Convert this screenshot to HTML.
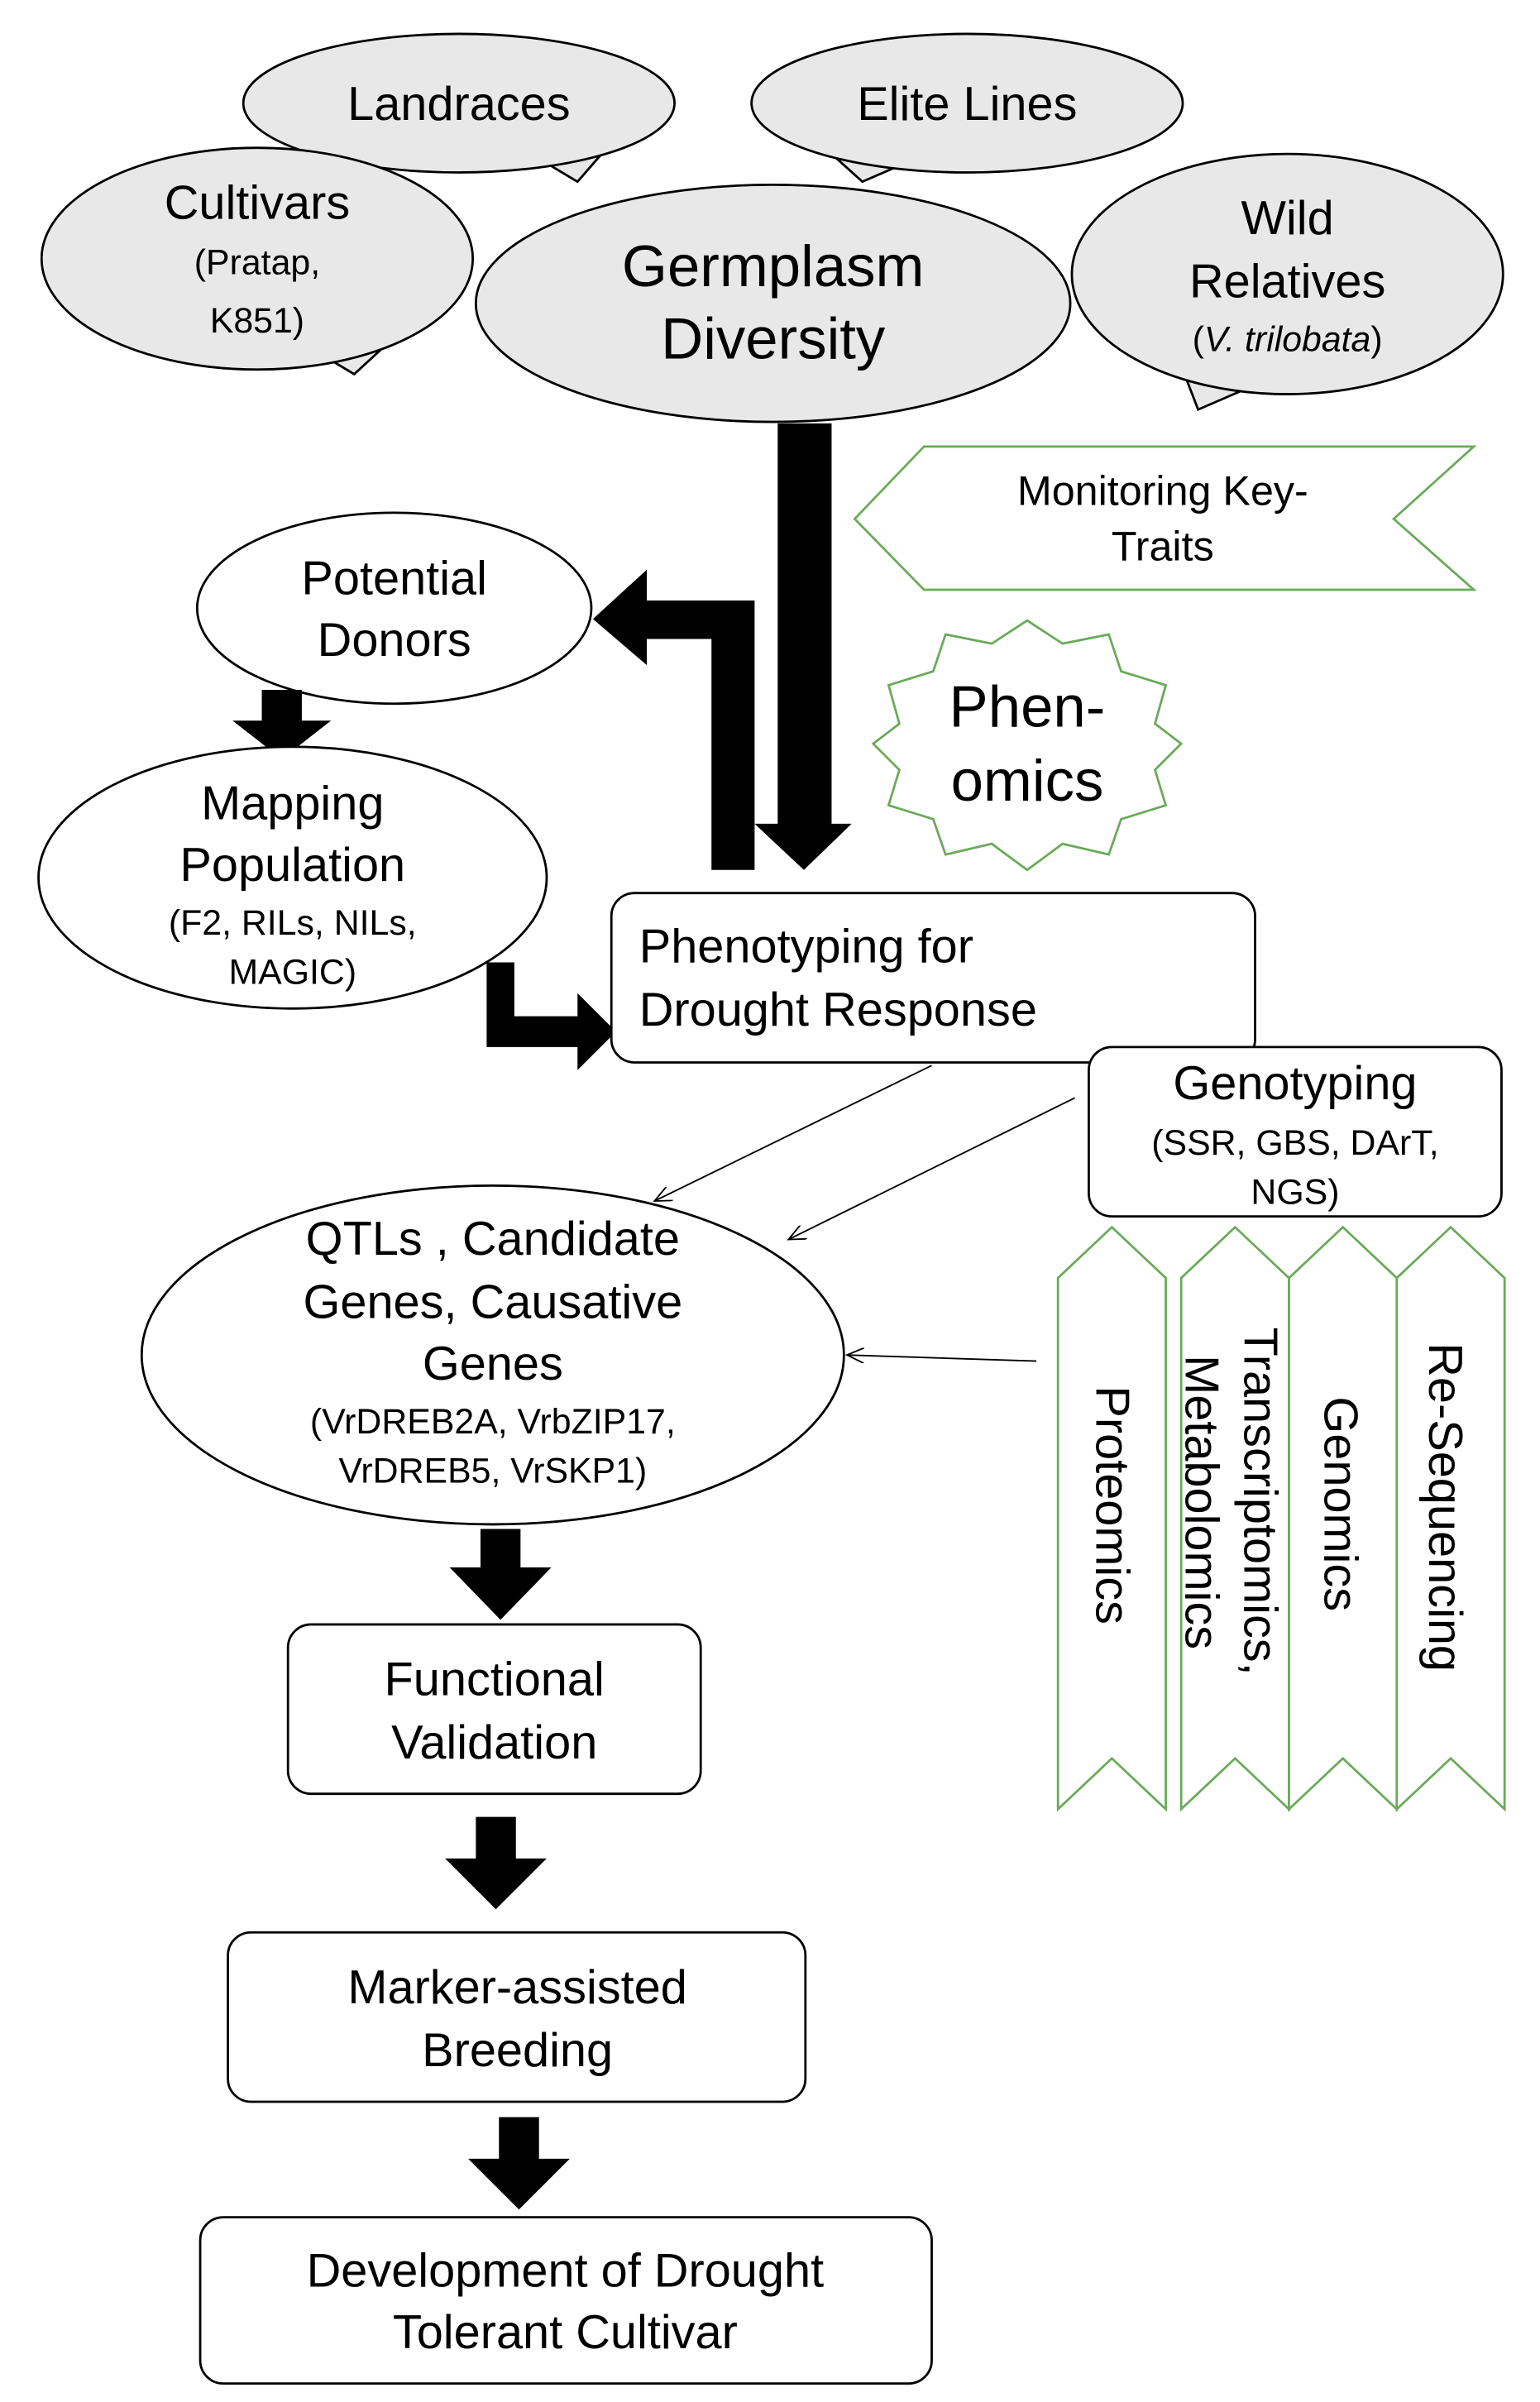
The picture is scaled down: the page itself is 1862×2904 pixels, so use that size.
<!DOCTYPE html>
<html><head><meta charset="utf-8"><style>
html,body{margin:0;padding:0;background:#fff}
svg{display:block}
text{font-family:"Liberation Sans",Arial,sans-serif;fill:#000}
</style></head><body>
<svg width="1862" height="2904" viewBox="0 0 1000 1560" preserveAspectRatio="none" xmlns="http://www.w3.org/2000/svg">
<defs>
<marker id="ah" markerWidth="12" markerHeight="10" refX="11" refY="5" orient="auto" markerUnits="userSpaceOnUse">
<path d="M0,0 L11,5 L0,10" fill="none" stroke="#000" stroke-width="1"/>
</marker>
</defs>
<g stroke="#000" stroke-width="1.5" fill="#e8e8e8">
<!-- Landraces -->
<polygon points="345,100 375,118 395,95"/>
<ellipse cx="298" cy="67" rx="140" ry="45"/>
<!-- Elite Lines -->
<polygon points="540,100 560,118 590,105"/>
<ellipse cx="628" cy="67" rx="140" ry="45"/>
<!-- Cultivars -->
<polygon points="200,225 230,243 255,220"/>
<ellipse cx="167" cy="168" rx="140" ry="72"/>
<!-- Wild Relatives -->
<polygon points="768,240 778,266 815,250"/>
<ellipse cx="836" cy="178" rx="140" ry="78"/>
<!-- Germplasm -->
<ellipse cx="502" cy="197" rx="193" ry="77"/>
</g>
<g font-size="31" text-anchor="middle">
<text x="298" y="78">Landraces</text>
<text x="628" y="78">Elite Lines</text>
<text x="167" y="142">Cultivars</text>
<text x="167" y="178" font-size="23">(Pratap,</text>
<text x="167" y="216" font-size="23">K851)</text>
<text x="836" y="152">Wild</text>
<text x="836" y="193">Relatives</text>
<text x="836" y="228" font-size="23">(<tspan font-style="italic">V. trilobata</tspan>)</text>
<text x="502" y="186" font-size="38">Germplasm</text>
<text x="502" y="233" font-size="38">Diversity</text>
</g>
<!-- big arrows -->
<path d="M505,275 L540,275 L540,535 L553,535 L522,565 L490,535 L505,535 Z" fill="#000"/>
<path d="M462,565 L490,565 L490,390 L420,390 L420,370 L385,402 L420,432 L420,415 L462,415 Z" fill="#000"/>
<!-- Monitoring banner -->
<path d="M555,337 L600,290 L957,290 L905,337 L957,383 L600,383 Z" fill="#fff" stroke="#6aaa5a" stroke-width="1.5"/>
<text x="755" y="328" font-size="27" text-anchor="middle">Monitoring Key-</text>
<text x="755" y="364" font-size="27" text-anchor="middle">Traits</text>
<!-- Phenomics star -->
<path d="M667,403 L690,418 L720,412 L728,436 L757,445 L750,470 L767,483 L750,500 L757,523 L728,532 L720,555 L690,548 L667,565 L644,548 L614,555 L606,532 L577,523 L584,500 L567,483 L584,470 L577,445 L606,436 L614,412 L644,418 Z" fill="#fff" stroke="#6aaa5a" stroke-width="1.5"/>
<text x="667" y="472" font-size="38" text-anchor="middle">Phen-</text>
<text x="667" y="520" font-size="38" text-anchor="middle">omics</text>
<!-- Potential Donors -->
<ellipse cx="256" cy="395" rx="128" ry="62" fill="#fff" stroke="#000" stroke-width="1.5"/>
<text x="256" y="386" font-size="31" text-anchor="middle">Potential</text>
<text x="256" y="426" font-size="31" text-anchor="middle">Donors</text>
<path d="M170,448 L196,448 L196,468 L215,468 L183,493 L151,468 L170,468 Z" fill="#000"/>
<!-- Mapping population -->
<ellipse cx="190" cy="570" rx="165" ry="85" fill="#fff" stroke="#000" stroke-width="1.5"/>
<text x="190" y="532" font-size="31" text-anchor="middle">Mapping</text>
<text x="190" y="572" font-size="31" text-anchor="middle">Population</text>
<text x="190" y="607" font-size="23" text-anchor="middle">(F2, RILs, NILs,</text>
<text x="190" y="639" font-size="23" text-anchor="middle">MAGIC)</text>
<path d="M316,625 L334,625 L334,660 L375,660 L375,645 L400,670 L375,695 L375,680 L316,680 Z" fill="#000"/>
<!-- Phenotyping -->
<rect x="397" y="580" width="418" height="110" rx="15" fill="#fff" stroke="#000" stroke-width="1.5"/>
<text x="415" y="625" font-size="31">Phenotyping for</text>
<text x="415" y="666" font-size="31">Drought Response</text>
<!-- Genotyping -->
<rect x="707" y="680" width="268" height="110" rx="15" fill="#fff" stroke="#000" stroke-width="1.5"/>
<text x="841" y="714" font-size="31" text-anchor="middle">Genotyping</text>
<text x="841" y="750" font-size="23" text-anchor="middle">(SSR, GBS, DArT,</text>
<text x="841" y="782" font-size="23" text-anchor="middle">NGS)</text>
<!-- thin arrows -->
<g stroke="#000" stroke-width="1" marker-end="url(#ah)">
<line x1="605" y1="692" x2="425" y2="780"/>
<line x1="698" y1="713" x2="512" y2="805"/>
<line x1="673" y1="884" x2="550" y2="880"/>
</g>
<!-- QTL -->
<ellipse cx="320" cy="880" rx="228" ry="110" fill="#fff" stroke="#000" stroke-width="1.5"/>
<g text-anchor="middle">
<text x="320" y="815" font-size="31">QTLs , Candidate</text>
<text x="320" y="856" font-size="31">Genes, Causative</text>
<text x="320" y="896" font-size="31">Genes</text>
<text x="320" y="931" font-size="23">(VrDREB2A, VrbZIP17,</text>
<text x="320" y="963" font-size="23">VrDREB5, VrSKP1)</text>
</g>
<!-- down arrows -->
<path d="M312,993 L338,993 L338,1018 L358,1018 L325,1052 L292,1018 L312,1018 Z" fill="#000"/>
<rect x="187" y="1055" width="268" height="110" rx="15" fill="#fff" stroke="#000" stroke-width="1.5"/>
<text x="321" y="1101" font-size="31" text-anchor="middle">Functional</text>
<text x="321" y="1142" font-size="31" text-anchor="middle">Validation</text>
<path d="M309,1180 L335,1180 L335,1207 L355,1207 L322,1240 L289,1207 L309,1207 Z" fill="#000"/>
<rect x="148" y="1255" width="375" height="110" rx="15" fill="#fff" stroke="#000" stroke-width="1.5"/>
<text x="336" y="1301" font-size="31" text-anchor="middle">Marker-assisted</text>
<text x="336" y="1342" font-size="31" text-anchor="middle">Breeding</text>
<path d="M324,1375 L350,1375 L350,1402 L370,1402 L337,1435 L304,1402 L324,1402 Z" fill="#000"/>
<rect x="130" y="1440" width="475" height="108" rx="15" fill="#fff" stroke="#000" stroke-width="1.5"/>
<text x="367" y="1485" font-size="31" text-anchor="middle">Development of Drought</text>
<text x="367" y="1525" font-size="31" text-anchor="middle">Tolerant Cultivar</text>
<!-- omics chevrons -->
<g fill="#fff" stroke="#6aaa5a" stroke-width="1.5">
<path d="M687,830 L722,797 L757,830 L757,1175 L722,1142 L687,1175 Z"/>
<path d="M767,830 L802,797 L837,830 L837,1175 L802,1142 L767,1175 Z"/>
<path d="M837,830 L872,797 L907,830 L907,1175 L872,1142 L837,1175 Z"/>
<path d="M907,830 L942,797 L977,830 L977,1175 L942,1142 L907,1175 Z"/>
</g>
<g font-size="31">
<text transform="translate(712,900) rotate(90)">Proteomics</text>
<text transform="translate(808,862) rotate(90)">Transcriptomics,</text>
<text transform="translate(770,880) rotate(90)">Metabolomics</text>
<text transform="translate(860,907) rotate(90)">Genomics</text>
<text transform="translate(928,872) rotate(90)">Re-Sequencing</text>
</g>
</svg>
</body></html>
